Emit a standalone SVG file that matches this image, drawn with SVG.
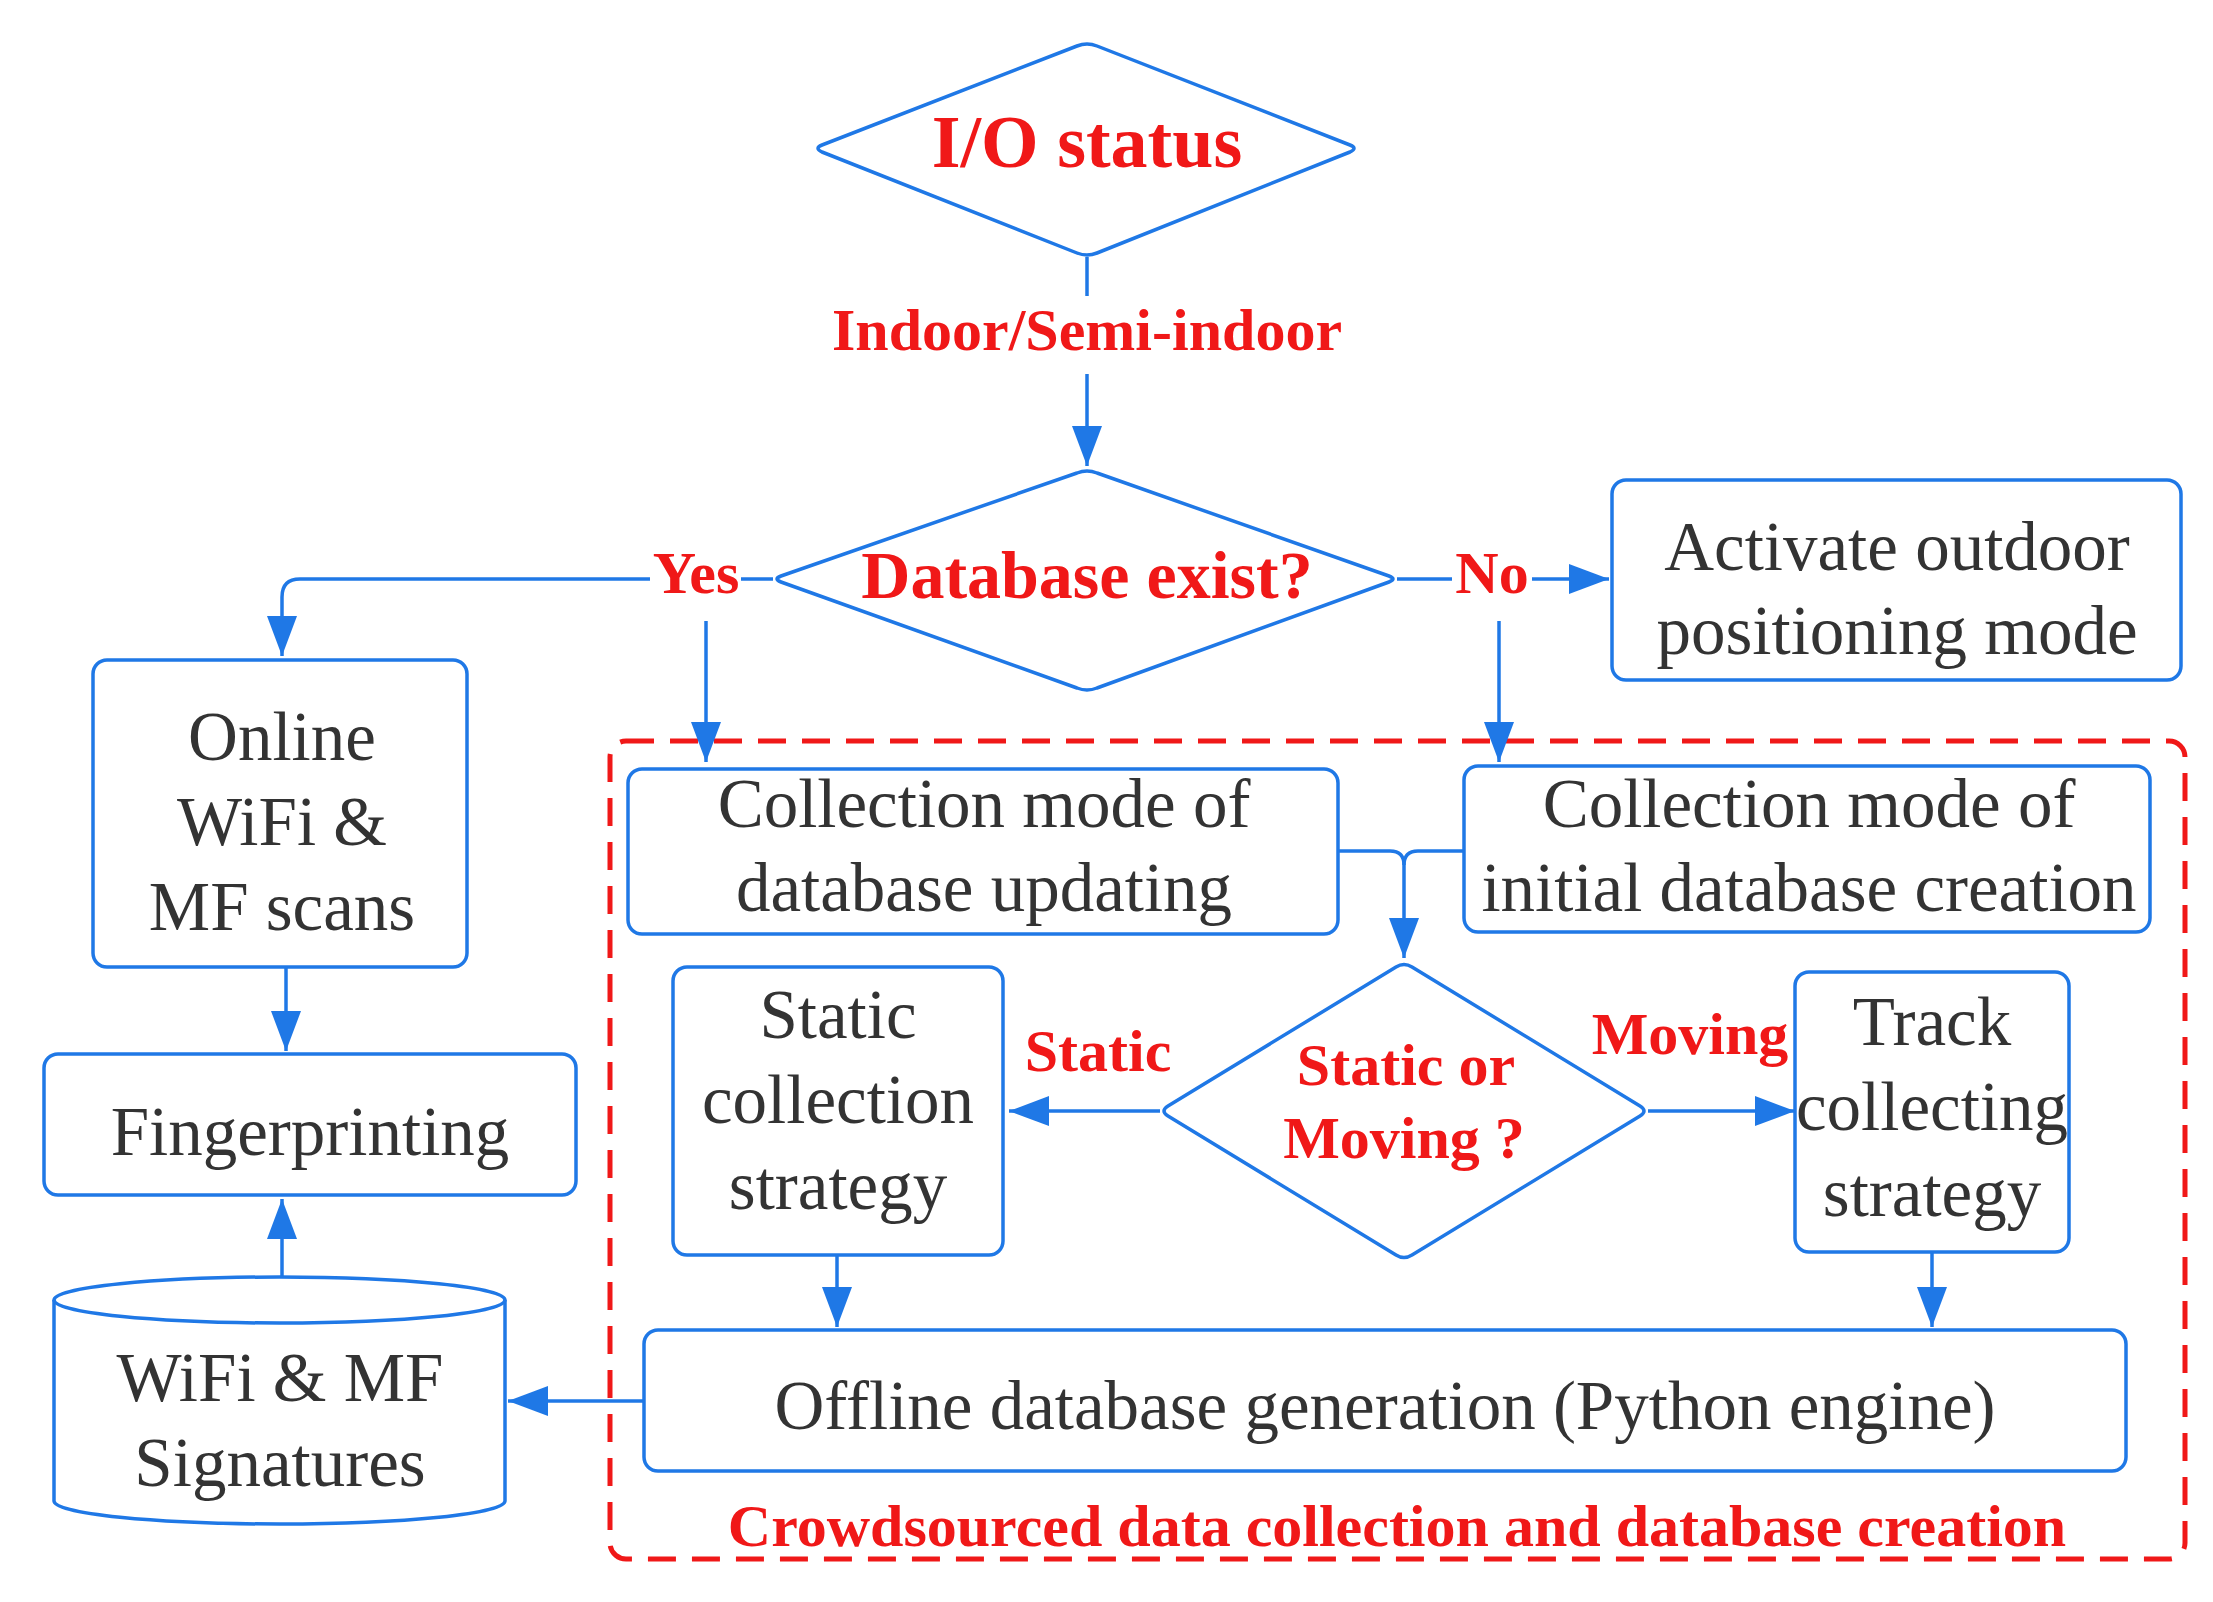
<svg xmlns="http://www.w3.org/2000/svg" width="2213" height="1602" viewBox="0 0 2213 1602">
<style>
.s{fill:#fff;stroke:#1f78e6;stroke-width:3.5;stroke-linejoin:round}
.c{fill:none;stroke:#1f78e6;stroke-width:3.5}
.t{font-family:"Liberation Serif",serif;font-size:69px;fill:#333;text-anchor:middle}
.r{font-family:"Liberation Serif",serif;font-weight:bold;font-size:60px;fill:#f01818;text-anchor:middle}
</style>
<defs>
<marker id="b" viewBox="0 0 40 30" refX="40" refY="15" markerWidth="40" markerHeight="30" markerUnits="userSpaceOnUse" orient="auto"><path d="M0,0 L40,15 L0,30 Z" fill="#1f78e6"/></marker></defs>
<rect x="610" y="741" width="1575" height="818" rx="16" fill="none" stroke="#f01818" stroke-width="5" stroke-dasharray="28 16"/>
<g id="connectors">
<path class="c" d="M1087,257 V296"/>
<path class="c" d="M1087,374 V466" marker-end="url(#b)"/>
<path class="c" d="M773,579 H741"/>
<path class="c" d="M650,579 H300 Q282,579 282,597 V656" marker-end="url(#b)"/>
<path class="c" d="M706,621 V762" marker-end="url(#b)"/>
<path class="c" d="M1397,579 H1452"/>
<path class="c" d="M1532,579 H1609" marker-end="url(#b)"/>
<path class="c" d="M1499,621 V762" marker-end="url(#b)"/>
<path class="c" d="M286,967 V1051" marker-end="url(#b)"/>
<path class="c" d="M282,1277 V1199" marker-end="url(#b)"/>
<path class="c" d="M1338,851 H1390 Q1404,851 1404,865 V958" marker-end="url(#b)"/>
<path class="c" d="M1464,851 H1418 Q1404,851 1404,865"/>
<path class="c" d="M1160,1111 H1009" marker-end="url(#b)"/>
<path class="c" d="M1648,1111 H1795" marker-end="url(#b)"/>
<path class="c" d="M837,1255 V1327" marker-end="url(#b)"/>
<path class="c" d="M1932,1252 V1327" marker-end="url(#b)"/>
<path class="c" d="M644,1401 H508" marker-end="url(#b)"/>
</g>
<g id="io"><path class="s" d="M822,145 L1077,46 Q1087,42 1097,46 L1350,145 Q1358,148 1350,152 L1097,253 Q1087,257 1077,253 L822,152 Q814,148 822,145 Z"/><text class="r" x="1087" y="167" style="font-size:74px">I/O status</text></g>
<text class="r" x="1087" y="350">Indoor/Semi-indoor</text>
<g id="db"><path class="s" d="M781,576 L1077,473 Q1087,469 1097,473 L1389,576 Q1397,579 1389,582 L1097,688 Q1087,692 1077,688 L781,582 Q773,579 781,576 Z"/><text class="r" x="1087" y="598" style="font-size:68px">Database exist?</text></g>
<text class="r" x="696" y="593">Yes</text>
<text class="r" x="1492" y="593">No</text>
<g id="activate"><rect class="s" x="1612" y="480" width="569" height="200" rx="14"/><text class="t" x="1897" y="570">Activate outdoor</text><text class="t" x="1897" y="654">positioning mode</text></g>
<g id="online"><rect class="s" x="93" y="660" width="374" height="307" rx="14"/><text class="t" x="282" y="760">Online</text><text class="t" x="282" y="845">WiFi &amp;</text><text class="t" x="282" y="930">MF scans</text></g>
<g id="finger"><rect class="s" x="44" y="1054" width="532" height="141" rx="14"/><text class="t" x="310" y="1155">Fingerprinting</text></g>
<g id="sig"><path class="s" d="M54,1300 V1501 A225.5,23 0 0 0 505,1501 V1300 A225.5,23 0 0 0 54,1300 Z"/><path class="c" d="M54,1300 A225.5,23 0 0 0 505,1300"/><text class="t" x="280" y="1401">WiFi &amp; MF</text><text class="t" x="280" y="1486">Signatures</text></g>
<g id="upd"><rect class="s" x="628" y="769" width="710" height="165" rx="14"/><text class="t" x="984" y="827">Collection mode of</text><text class="t" x="984" y="911">database updating</text></g>
<g id="init"><rect class="s" x="1464" y="766" width="686" height="166" rx="14"/><text class="t" x="1809" y="827">Collection mode of</text><text class="t" x="1809" y="911">initial database creation</text></g>
<g id="sm"><path class="s" d="M1168,1106 L1396,967 Q1404,962 1412,967 L1640,1106 Q1648,1111 1640,1116 L1412,1255 Q1404,1260 1396,1255 L1168,1116 Q1160,1111 1168,1106 Z"/><text class="r" x="1406" y="1085">Static or</text><text class="r" x="1404" y="1158">Moving ?</text></g>
<text class="r" x="1098" y="1071">Static</text>
<text class="r" x="1690" y="1054">Moving</text>
<g id="static"><rect class="s" x="673" y="967" width="330" height="288" rx="14"/><text class="t" x="838" y="1038">Static</text><text class="t" x="838" y="1123">collection</text><text class="t" x="838" y="1209">strategy</text></g>
<g id="track"><rect class="s" x="1795" y="972" width="274" height="280" rx="14"/><text class="t" x="1932" y="1045">Track</text><text class="t" x="1932" y="1130">collecting</text><text class="t" x="1932" y="1216">strategy</text></g>
<g id="offline"><rect class="s" x="644" y="1330" width="1482" height="141" rx="14"/><text class="t" x="1385" y="1429">Offline database generation (Python engine)</text></g>
<text class="r" x="1397" y="1546">Crowdsourced data collection and database creation</text>
</svg>
